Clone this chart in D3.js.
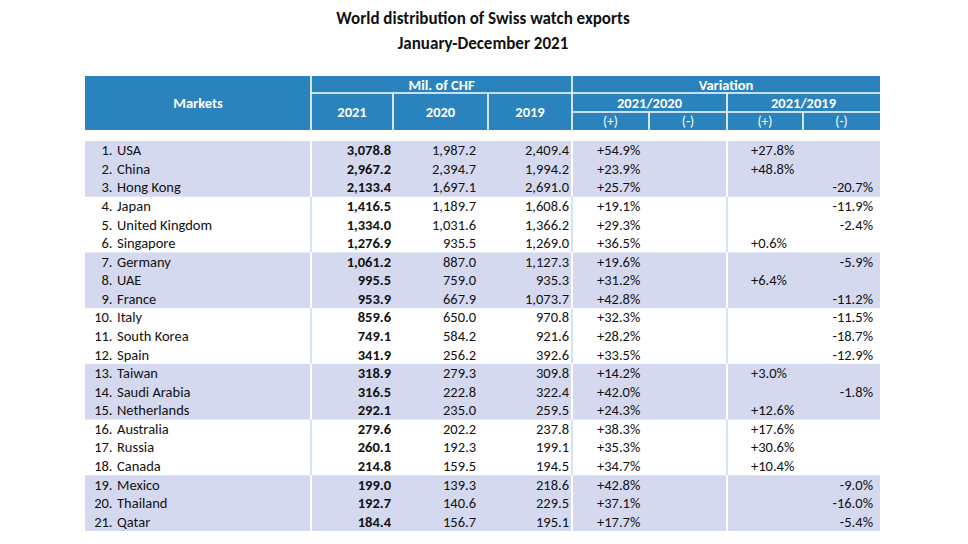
<!DOCTYPE html>
<html>
<head>
<meta charset="utf-8">
<script src="https://cdn.jsdelivr.net/npm/d3@7/dist/d3.min.js"></script>
<style>
  html, body { margin: 0; padding: 0; background: #ffffff; }
  svg { display: block; font-family: Carlito, Lato, "Open Sans", sans-serif; }
</style>
</head>
<body>
<svg id="chart" width="968" height="544"></svg>
<script>
// ---------- data ----------
const titleLines = ["World distribution of Swiss watch exports", "January-December 2021"];
const markets = ["USA", "China", "Hong Kong", "Japan", "United Kingdom", "Singapore", "Germany", "UAE", "France",
  "Italy", "South Korea", "Spain", "Taiwan", "Saudi Arabia", "Netherlands", "Australia", "Russia", "Canada",
  "Mexico", "Thailand", "Qatar"];
const values2021 = [3078.8, 2967.2, 2133.4, 1416.5, 1334.0, 1276.9, 1061.2, 995.5, 953.9, 859.6, 749.1, 341.9,
  318.9, 316.5, 292.1, 279.6, 260.1, 214.8, 199.0, 192.7, 184.4];
const values2020 = [1987.2, 2394.7, 1697.1, 1189.7, 1031.6, 935.5, 887.0, 759.0, 667.9, 650.0, 584.2, 256.2,
  279.3, 222.8, 235.0, 202.2, 192.3, 159.5, 139.3, 140.6, 156.7];
const values2019 = [2409.4, 1994.2, 2691.0, 1608.6, 1366.2, 1269.0, 1127.3, 935.3, 1073.7, 970.8, 921.6, 392.6,
  309.8, 322.4, 259.5, 237.8, 199.1, 194.5, 218.6, 229.5, 195.1];
const var2021vs2020 = [54.9, 23.9, 25.7, 19.1, 29.3, 36.5, 19.6, 31.2, 42.8, 32.3, 28.2, 33.5, 14.2, 42.0, 24.3,
  38.3, 35.3, 34.7, 42.8, 37.1, 17.7];
const var2021vs2019 = [27.8, 48.8, -20.7, -11.9, -2.4, 0.6, -5.9, 6.4, -11.2, -11.5, -18.7, -12.9, 3.0, -1.8, 12.6,
  17.6, 30.6, 10.4, -9.0, -16.0, -5.4];
const yearLabels = ["2021", "2020", "2019"];
const periodLabels = ["2021/2020", "2021/2019"];
const signLabels = ["(+)", "(-)", "(+)", "(-)"];

// ---------- setup ----------
const svg = d3.select("#chart");
const BLUE = "#2a83bc";
const SHADE = "#d4d9f0";
const SEP = "#c9dcf3";
const fmt = d3.format(",.1f");
const pct = v => (v >= 0 ? "+" : "") + v.toFixed(1) + "%";

const rows = markets.map((m, i) => ({
  rank: i + 1, name: m, v21: values2021[i], v20: values2020[i], v19: values2019[i],
  a: var2021vs2020[i], b: var2021vs2019[i]
}));

// Title
svg.selectAll("text.title").data(titleLines).join("text")
  .attr("class", "title")
  .attr("x", 483).attr("y", (d, i) => 24 + i * 24.5)
  .attr("text-anchor", "middle")
  .attr("font-size", 17).attr("font-weight", "bold").attr("fill", "#111")
  .text(d => d);

// Column boundaries (x positions of the table grid)
const xEdges = { left: 85, mk: 311, c21: 393, c20: 488, c19: 572, p1: 649, mid: 727, p2: 803, right: 880 };

// Header geometry
const hTop = 76, hRow1 = 93, hRow2 = 112, hBot = 130;
svg.append("rect").attr("x", xEdges.left).attr("y", hTop)
  .attr("width", xEdges.right - xEdges.left).attr("height", hBot - hTop).attr("fill", BLUE);

const hLines = [
  [xEdges.mk, hTop, xEdges.mk, hBot],
  [xEdges.c19, hTop, xEdges.c19, hBot],
  [xEdges.c21, hRow1, xEdges.c21, hBot],
  [xEdges.c20, hRow1, xEdges.c20, hBot],
  [xEdges.mid, hRow1, xEdges.mid, hBot],
  [xEdges.p1, hRow2, xEdges.p1, hBot],
  [xEdges.p2, hRow2, xEdges.p2, hBot],
  [xEdges.mk, hRow1, xEdges.right, hRow1],
  [xEdges.c19, hRow2, xEdges.right, hRow2]
];
svg.selectAll("line.hgrid").data(hLines).join("line")
  .attr("class", "hgrid")
  .attr("x1", d => d[0]).attr("y1", d => d[1]).attr("x2", d => d[2]).attr("y2", d => d[3])
  .attr("stroke", "#ffffff").attr("stroke-width", 1.6);

const hText = (x, y, t, opts = {}) => svg.append("text")
  .attr("x", x).attr("y", y).attr("text-anchor", "middle").attr("dominant-baseline", "central")
  .attr("font-size", opts.size || 14.5).attr("font-weight", opts.weight || "bold").attr("fill", "#fff").text(t);

hText((xEdges.left + xEdges.mk) / 2, 103, "Markets");
hText((xEdges.mk + xEdges.c19) / 2, 85, "Mil. of CHF");
hText((xEdges.c19 + xEdges.right) / 2, 85, "Variation");

const yearCols = [[xEdges.mk, xEdges.c21], [xEdges.c21, xEdges.c20], [xEdges.c20, xEdges.c19]];
svg.selectAll("text.year").data(yearLabels).join("text")
  .attr("class", "year")
  .attr("x", (d, i) => (yearCols[i][0] + yearCols[i][1]) / 2).attr("y", 112)
  .attr("text-anchor", "middle").attr("dominant-baseline", "central")
  .attr("font-size", 14.5).attr("font-weight", "bold").attr("fill", "#fff").text(d => d);

const periodCols = [[xEdges.c19, xEdges.mid], [xEdges.mid, xEdges.right]];
svg.selectAll("text.period").data(periodLabels).join("text")
  .attr("class", "period")
  .attr("x", (d, i) => (periodCols[i][0] + periodCols[i][1]) / 2).attr("y", 102.5)
  .attr("text-anchor", "middle").attr("dominant-baseline", "central")
  .attr("font-size", 14.5).attr("font-weight", "bold").attr("fill", "#fff").text(d => d);

const signCols = [[xEdges.c19, xEdges.p1], [xEdges.p1, xEdges.mid], [xEdges.mid, xEdges.p2], [xEdges.p2, xEdges.right]];
svg.selectAll("text.sign").data(signLabels).join("text")
  .attr("class", "sign")
  .attr("x", (d, i) => (signCols[i][0] + signCols[i][1]) / 2).attr("y", 121.5)
  .attr("text-anchor", "middle").attr("dominant-baseline", "central")
  .attr("font-size", 13.5).attr("fill", "#fff").text(d => d);

// ---------- body ----------
const y = d3.scaleBand().domain(d3.range(rows.length)).range([141, 531]).paddingInner(0);
const groups = d3.range(Math.ceil(rows.length / 3));

// shaded bands (groups of 3 rows, alternating)
svg.selectAll("rect.band").data(groups.filter(g => g % 2 === 0)).join("rect")
  .attr("class", "band")
  .attr("x", xEdges.left).attr("y", g => y(g * 3))
  .attr("width", xEdges.right - xEdges.left).attr("height", y.bandwidth() * 3)
  .attr("fill", SHADE);

// column separators inside body
const sepX = [xEdges.mk, xEdges.c19, xEdges.mid];
groups.forEach(g => {
  svg.selectAll(null).data(sepX).join("line")
    .attr("x1", d => d).attr("x2", d => d)
    .attr("y1", y(g * 3)).attr("y2", y(g * 3) + y.bandwidth() * 3)
    .attr("stroke", g % 2 === 0 ? "#ffffff" : SEP)
    .attr("stroke-width", g % 2 === 0 ? 2 : 1.6);
});

const rowG = svg.selectAll("g.row").data(rows).join("g")
  .attr("class", "row")
  .attr("transform", (d, i) => `translate(0,${y(i) + y.bandwidth() / 2})`);

const FS = 14.5;
const cell = (sel, x, anchor, fn, weight) => sel.append("text")
  .attr("x", x).attr("dominant-baseline", "central").attr("text-anchor", anchor)
  .attr("font-size", FS).attr("font-weight", weight || "normal").attr("fill", "#111").text(fn);

cell(rowG, 112.5, "end", d => d.rank + ".");
cell(rowG, 117, "start", d => d.name);
cell(rowG, 391, "end", d => fmt(d.v21), "bold");
cell(rowG, 476, "end", d => fmt(d.v20));
cell(rowG, 569, "end", d => fmt(d.v19));
cell(rowG.filter(d => d.a >= 0), 597, "start", d => pct(d.a));
cell(rowG.filter(d => d.a < 0), 723, "end", d => pct(d.a));
cell(rowG.filter(d => d.b >= 0), 751, "start", d => pct(d.b));
cell(rowG.filter(d => d.b < 0), 873, "end", d => pct(d.b));
</script>
</body>
</html>
